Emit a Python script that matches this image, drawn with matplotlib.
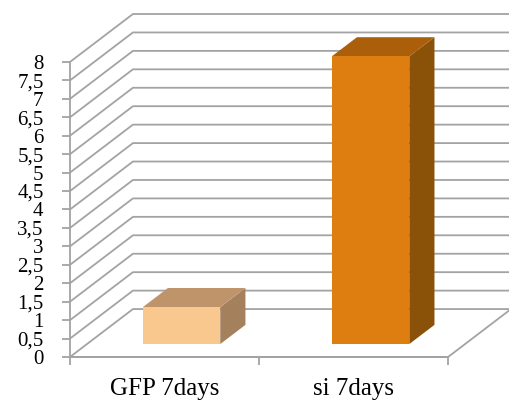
import matplotlib
matplotlib.use("Agg")
import matplotlib.pyplot as plt
from matplotlib.patches import Polygon
import numpy as np

# Data
categories = ["GFP 7days", "si 7days"]
values = [1.0, 7.8]
tick_values = [i * 0.5 for i in range(17)]
tick_labels = [("%g" % v).replace(".", ",") for v in tick_values]

front_colors = ["#F9C88F", "#DF7E10"]
top_colors = ["#C0946A", "#AC5F0A"]
side_colors = ["#A4805C", "#8A5108"]

# Oblique projection of the depth axis (in data units)
DX = 0.333   # horizontal shift in category units for full depth
DY = 1.30    # vertical shift in value units for full depth
BAR_D0, BAR_D1 = 0.27, 0.67   # bar's front/back depth fractions
BAR_W = 0.41

W, H = 509, 408
fig = plt.figure(figsize=(W / 100, H / 100), dpi=100)
ax = fig.add_axes([70 / W, 51 / H, 441 / W, 343 / H])
ax.set_xlim(-0.5, len(categories) - 0.5 + DX)
ax.set_ylim(0, max(tick_values) + DY)
ax.patch.set_visible(False)

grid_c = "#a3a3a3"
x0, x1 = -0.5, len(categories) - 0.5

# side wall diagonals + back wall horizontal gridlines
for v in tick_values:
    ax.plot([x0, x0 + DX, x1 + DX], [v, v + DY, v + DY], color=grid_c, lw=1.3,
            zorder=1, clip_on=False, solid_capstyle="butt")
# floor front and right edges
ax.plot([x0, x1, x1 + DX], [0, 0, DY], color=grid_c, lw=1.3, zorder=1, clip_on=False)

# bars as oblique boxes
for i, (v, fc, tc, sc) in enumerate(zip(values, front_colors, top_colors, side_colors)):
    fx = i + BAR_D0 * DX
    fy = BAR_D0 * DY
    bx = i + BAR_D1 * DX
    by = BAR_D1 * DY
    l, r = fx - BAR_W / 2, fx + BAR_W / 2
    lb, rb = bx - BAR_W / 2, bx + BAR_W / 2
    front = Polygon([(l, fy), (r, fy), (r, fy + v), (l, fy + v)], closed=True,
                    facecolor=fc, edgecolor="none", zorder=3)
    top = Polygon([(l, fy + v), (r, fy + v), (rb, by + v), (lb, by + v)], closed=True,
                  facecolor=tc, edgecolor="none", zorder=3)
    side = Polygon([(r, fy), (rb, by), (rb, by + v), (r, fy + v)], closed=True,
                   facecolor=sc, edgecolor="none", zorder=3)
    for p in (side, top, front):
        ax.add_patch(p)

# axes spines and ticks
for s in ("top", "right"):
    ax.spines[s].set_visible(False)
ax.spines["left"].set_bounds(0, max(tick_values))
ax.spines["bottom"].set_bounds(x0, x1)
for s in ("left", "bottom"):
    ax.spines[s].set_color(grid_c)
    ax.spines[s].set_linewidth(1.3)

font = "Liberation Serif"
ax.set_yticks(tick_values)
ax.set_yticklabels(tick_labels, fontsize=15, family=font)
ax.tick_params(axis="y", length=6, width=1.3, color=grid_c, pad=13)

ax.set_xticks(np.arange(len(categories) + 1) - 0.5)
ax.set_xticklabels([])
ax.set_xticks(np.arange(len(categories)), minor=True)
ax.set_xticklabels(categories, minor=True, fontsize=18, family=font)
ax.tick_params(axis="x", which="minor", length=0, pad=15)
ax.tick_params(axis="x", which="major", length=6, width=1.3, color=grid_c)

fig.savefig("out.png", dpi=100)
